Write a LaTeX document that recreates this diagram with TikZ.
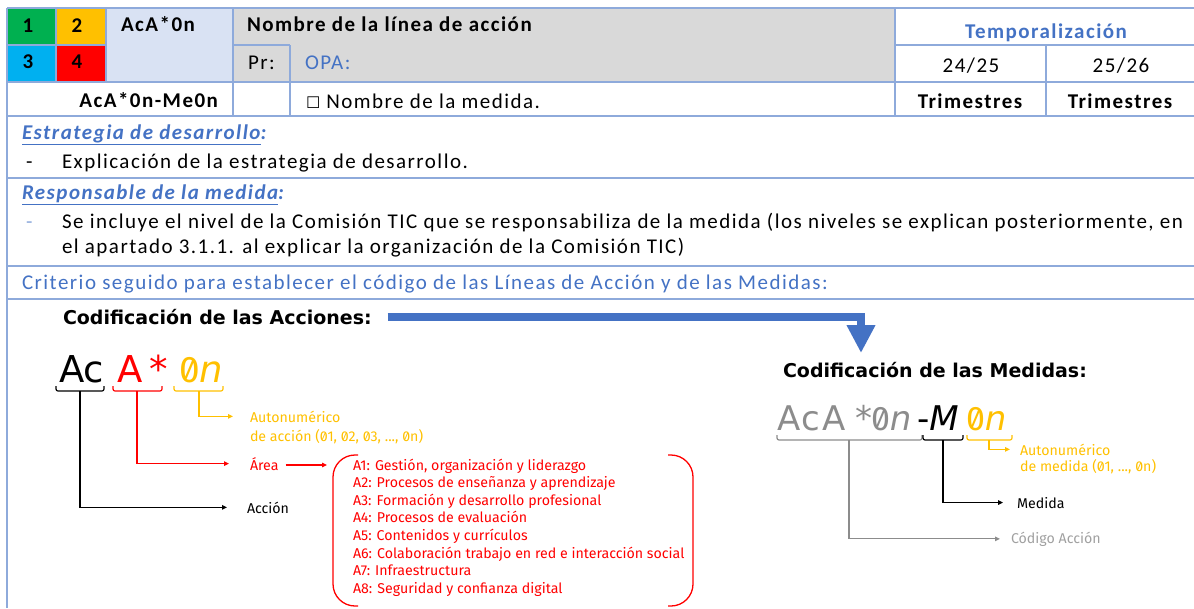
\documentclass[tikz,border=0pt]{standalone}
\usepackage{fontspec}
\setmainfont{Carlito}[LetterSpace=7]
\newfontfamily\fira[RawFeature=+zero]{Fira Sans}
\newfontfamily\dejavu{DejaVu Sans}
\newfontfamily\dejavuesp{DejaVu Sans}[LetterSpace=6]
\usetikzlibrary{arrows.meta}

\definecolor{bordeazul}{HTML}{8EAADB}
\definecolor{azultit}{HTML}{4472C4}
\definecolor{verde}{HTML}{00B050}
\definecolor{amarillo}{HTML}{FFC000}
\definecolor{celeste}{HTML}{00B0F0}
\definecolor{rojo}{HTML}{FF0000}
\definecolor{azulclaro}{HTML}{D9E2F3}
\definecolor{grisclaro}{HTML}{D9D9D9}
\definecolor{grisco}{HTML}{8C8C8C}
\definecolor{grisetiq}{HTML}{A0A0A0}

\begin{document}
\begin{tikzpicture}[x=1pt, y=-1pt,
	every node/.style={inner sep=0pt, outer sep=0pt},
	linea/.style={draw=bordeazul, line width=1.3pt},
	texto/.style={anchor=base west, font=\fontsize{21}{25}\selectfont},
	negrita/.style={anchor=base west, font=\fontsize{21}{25}\selectfont\bfseries},
	titulo/.style={anchor=base west, font=\dejavu\fontsize{19}{23}\selectfont\bfseries},
	codigo/.style={anchor=base west, font=\dejavu\fontsize{#1}{#1}\selectfont},
	etiq/.style={anchor=base west, font=\fira\fontsize{14.2}{16}\selectfont},
	llave/.style={line width=1.2pt, rounded corners=2pt},
	flecha/.style={line width=1.2pt, -{Triangle[length=5pt,width=4.5pt]}},
]
	\useasboundingbox (0,0) rectangle (1194,608);
	
	% celdas de la cabecera
	\fill[verde] (7,8) rectangle (56,45);
	\fill[amarillo] (56,8) rectangle (106,45);
	\fill[celeste] (7,45) rectangle (56,82);
	\fill[rojo] (56,45) rectangle (106,82);
	\fill[azulclaro] (106,8) rectangle (233,82);
	\fill[grisclaro] (233,8) rectangle (895,82);
	
	\draw[linea] (7,8) -- (1194,8);
	\draw[linea] (7,45) -- (106,45) (233,45) -- (290,45) (895,45) -- (1194,45);
	\draw[linea] (7,82) -- (1194,82);
	\draw[linea] (7,116) -- (1194,116);
	\draw[linea] (7,178) -- (1194,178);
	\draw[linea] (7,266) -- (1194,266);
	\draw[linea] (7,299) -- (1194,299);
	\draw[linea] (7,8) -- (7,608);
	\draw[linea] (56,8) -- (56,82) (106,8) -- (106,82);
	\draw[linea] (233,8) -- (233,116) (290,45) -- (290,116);
	\draw[linea] (895,8) -- (895,116) (1046,45) -- (1046,116);
	
	\node[negrita, anchor=base] (uno) at (28,32) {1};
	\node[negrita, anchor=base] (dos) at (77,32) {2};
	\node[negrita, anchor=base] (tres) at (28,68) {3};
	\node[negrita, anchor=base] (cuatro) at (77,68) {4};
	\node[negrita] (lin) at (121,31) {AcA*0n};
	\node[negrita] (nombre) at (247,31) {Nombre de la línea de acción};
	\node[texto] (pr) at (248,69) {Pr:};
	\node[texto, text=azultit] (opa) at (305,69) {OPA:};
	\node[negrita, anchor=base, text=azultit] (temp) at (1046,38) {Temporalización};
	\node[texto, anchor=base] (curso1) at (971,72) {24/25};
	\node[texto, anchor=base] (curso2) at (1121,72) {25/26};
	\node[negrita, anchor=base east] (linmed) at (218,107) {AcA*0n-Me0n};
	\node[texto] (med) at (306,108) {{\dejavu\fontsize{16}{16}\selectfont ☐}\hspace{6pt}Nombre de la medida.};
	\node[negrita, anchor=base] (trim1) at (970,108) {Trimestres};
	\node[negrita, anchor=base] (trim2) at (1120,108) {Trimestres};
	
	\node[negrita, text=azultit] (estr) at (22,139) {\itshape\underline{Estrategia de desarrollo}:};
	\node[texto] (guion1) at (26,168) {-};
	\node[texto] (expl) at (62,168) {Explicación de la estrategia de desarrollo.};
	\node[negrita, text=azultit] (resp) at (22,199) {\itshape\underline{Responsable de la medida}:};
	\node[texto, text=bordeazul] (guion2) at (26,228) {-};
	\node[texto] (incl1) at (62,228) {Se incluye el nivel de la Comisión TIC que se responsabiliza de la medida (los niveles se explican posteriormente, en};
	\node[texto] (incl2) at (62,253) {el apartado 3.1.1. al explicar la organización de la Comisión TIC)};
	\node[texto, text=azultit] (crit) at (22,289) {Criterio seguido para establecer el código de las Líneas de Acción y de las Medidas:};
	
	% codificacion de las acciones
	\node[titulo] (acciones) at (63,324) {Codificación de las Acciones:};
	\node[codigo=37] (cAc) at (59,382) {Ac};
	\node[codigo=37, text=rojo] (cA) at (117,382) {A};
	\node[codigo=37, text=rojo] (cAst) at (149,382) {\textit{*}};
	\node[codigo=37, text=amarillo] (c0n) at (179,382) {{\fira 0}\textit{n}};
	
	\draw[llave] (56,386) -- (56,391) -- (104,391) -- (104,386);
	\draw[llave, rojo] (113,386) -- (113,391) -- (162,391) -- (162,386);
	\draw[llave, amarillo] (174,386) -- (174,391) -- (223,391) -- (223,386);
	\coordinate (bAc) at (80,391);
	\coordinate (bA) at (137,391);
	\coordinate (b0n) at (199,391);
	
	\node[etiq, text=amarillo] (autoA) at (250,422) {Autonumérico};
	\node[etiq, text=amarillo] (autoA2) at (250,441) {de acción (01, 02, 03, ..., 0n)};
	\node[etiq, text=rojo] (area) at (250,470) {Área};
	\node[etiq] (accion) at (247,513) {Acción};
	
	\draw[flecha, amarillo, shorten >=17pt] (b0n) |- (autoA.west);
	\draw[flecha, rojo, shorten >=21pt] (bA) |- (area.west);
	\draw[flecha, shorten >=20pt] (bAc) |- (accion.west);
	
	\coordinate (parizq) at (333,465);
	\draw[rojo, line width=1.3pt, rounded corners=22pt] (358,455) -- (333,455) -- (333,606) -- (358,606);
	\draw[rojo, line width=1.3pt, rounded corners=22pt] (668,455) -- (693,455) -- (693,606) -- (668,606);
	\draw[flecha, rojo, shorten <=7pt, shorten >=6pt] (area.east |- parizq) -- (parizq);
	
	\node[etiq, text=rojo] (a1) at (353,470) {A1: Gestión, organización y liderazgo};
	\node[etiq, text=rojo] (a2) at (353,487.6) {A2: Procesos de enseñanza y aprendizaje};
	\node[etiq, text=rojo] (a3) at (353,505.2) {A3: Formación y desarrollo profesional};
	\node[etiq, text=rojo] (a4) at (353,522.8) {A4: Procesos de evaluación};
	\node[etiq, text=rojo] (a5) at (353,540.4) {A5: Contenidos y currículos};
	\node[etiq, text=rojo] (a6) at (353,558) {A6: Colaboración trabajo en red e interacción social};
	\node[etiq, text=rojo] (a7) at (353,575.6) {A7: Infraestructura};
	\node[etiq, text=rojo] (a8) at (353,593.2) {A8: Seguridad y confianza digital};
	
	% flecha hacia las medidas
	\coordinate (punta) at (861,353);
	\draw[azultit, line width=8pt, shorten <=16pt, -{Triangle[length=28pt,width=27pt]}] (acciones.east) -| (punta);
	
	% codificacion de las medidas
	\node[titulo] (medidas) at (783,377) {Codificación de las Medidas:};
	\node[codigo=34, font=\dejavuesp\fontsize{34}{34}\selectfont, text=grisco] (mAc) at (777,430) {AcA};
	\node[codigo=34, text=grisco] (mAst) at (855,430) {\textit{*}};
	\node[codigo=34, text=grisco] (mCn) at (871,430) {{\fira 0}\textit{n}};
	\node[codigo=34] (mM) at (917,430) {-\textit{M}};
	\node[codigo=34, text=amarillo] (m0n) at (966,430) {{\fira 0}\textit{n}};
	
	\draw[llave, grisco] (777,435) -- (777,440) -- (922,440) -- (922,435);
	\draw[llave] (923,435) -- (923,440) -- (963,440) -- (963,435);
	\draw[llave, amarillo] (967,435) -- (967,440) -- (1012,440) -- (1012,435);
	\coordinate (bmAc) at (849,440);
	\coordinate (bmM) at (943,440);
	\coordinate (bm0n) at (989,440);
	
	\node[etiq, text=amarillo] (autoM) at (1020,455) {Autonumérico};
	\node[etiq, text=amarillo] (autoM2) at (1020,471) {de medida (01, ..., 0n)};
	\node[etiq] (medida) at (1017,508) {Medida};
	\node[etiq, text=grisetiq] (codacc) at (1011,543) {Código Acción};
	
	\draw[flecha, amarillo, shorten >=10pt] (bm0n) |- (autoM.west);
	\draw[flecha, shorten >=14pt] (bmM) |- (medida.west);
	\draw[flecha, grisco, shorten >=11pt] (bmAc) |- (codacc.west);
\end{tikzpicture}
\end{document}
